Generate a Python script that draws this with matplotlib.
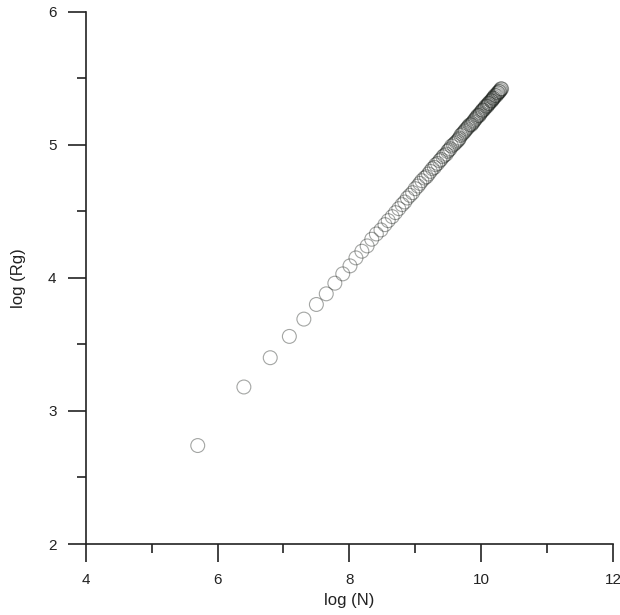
import matplotlib
matplotlib.use("Agg")
import matplotlib.pyplot as plt
from matplotlib.ticker import MultipleLocator

plt.rcParams['font.family'] = ['Liberation Sans', 'DejaVu Sans']

log_N = [5.70, 6.40, 6.80, 7.09, 7.31, 7.50, 7.65, 7.78, 7.90, 8.01,
         8.10, 8.19, 8.27, 8.34, 8.41, 8.48, 8.54, 8.59, 8.65, 8.70,
         8.75, 8.80, 8.84, 8.88, 8.92, 8.96, 9.00, 9.04, 9.07, 9.10,
         9.14, 9.17, 9.20, 9.23, 9.26, 9.29, 9.31, 9.34, 9.37, 9.39,
         9.42, 9.44, 9.47, 9.49, 9.51, 9.53, 9.55, 9.58, 9.60, 9.62,
         9.64, 9.66, 9.67, 9.69, 9.71, 9.73, 9.75, 9.76, 9.78, 9.80,
         9.81, 9.83, 9.85, 9.86, 9.88, 9.89, 9.91, 9.92, 9.94, 9.95,
         9.97, 9.98, 9.99, 10.01, 10.02, 10.03, 10.05, 10.06, 10.07, 10.09,
         10.10, 10.11, 10.12, 10.13, 10.15, 10.16, 10.17, 10.18, 10.19, 10.20,
         10.21, 10.23, 10.24, 10.25, 10.26, 10.27, 10.28, 10.29, 10.30, 10.31]

log_Rg = [2.74, 3.18, 3.40, 3.56, 3.69, 3.80, 3.88, 3.96, 4.03, 4.09,
          4.15, 4.20, 4.24, 4.29, 4.33, 4.36, 4.40, 4.43, 4.46, 4.49,
          4.52, 4.55, 4.57, 4.60, 4.62, 4.64, 4.67, 4.69, 4.71, 4.73,
          4.75, 4.76, 4.78, 4.80, 4.82, 4.83, 4.85, 4.86, 4.88, 4.89,
          4.91, 4.92, 4.93, 4.95, 4.96, 4.97, 4.99, 5.00, 5.01, 5.02,
          5.03, 5.04, 5.05, 5.07, 5.08, 5.09, 5.10, 5.11, 5.12, 5.13,
          5.14, 5.15, 5.15, 5.16, 5.17, 5.18, 5.19, 5.20, 5.21, 5.22,
          5.22, 5.23, 5.24, 5.25, 5.26, 5.26, 5.27, 5.28, 5.29, 5.29,
          5.30, 5.31, 5.31, 5.32, 5.33, 5.33, 5.34, 5.35, 5.35, 5.36,
          5.37, 5.37, 5.38, 5.39, 5.39, 5.40, 5.40, 5.41, 5.42, 5.42]

x_ticks = [4, 6, 8, 10, 12]
y_ticks = [2, 3, 4, 5, 6]

fig = plt.figure(figsize=(6.2, 6.15), dpi=100)
ax = fig.add_axes([0.1382, 0.1154, 0.8505, 0.8656])

ax.scatter(log_N, log_Rg, s=100, facecolors='none',
           edgecolors=(0.1, 0.12, 0.1, 0.4),
           linewidths=0.8, clip_on=False, zorder=3)

ax.set_xlim(4, 12)
ax.set_ylim(2, 6)
ax.set_xticks(x_ticks)
ax.set_yticks(y_ticks)
ax.xaxis.set_minor_locator(MultipleLocator(1))
ax.yaxis.set_minor_locator(MultipleLocator(0.5))

for s in ['top', 'right']:
    ax.spines[s].set_visible(False)
for s in ['left', 'bottom']:
    ax.spines[s].set_linewidth(1.2)
    ax.spines[s].set_color('#222222')

ax.tick_params(axis='both', which='major', direction='out', length=13,
               width=1.2, colors='#222222', labelsize=11, pad=8)
ax.tick_params(axis='both', which='minor', direction='out', length=6.5,
               width=1.2, colors='#222222')

ax.set_xlabel('log (N)', fontsize=12, color='#222222', labelpad=4)
ax.set_ylabel('log (Rg)', fontsize=12, color='#222222', labelpad=16)

fig.savefig('out.png', dpi=100)
